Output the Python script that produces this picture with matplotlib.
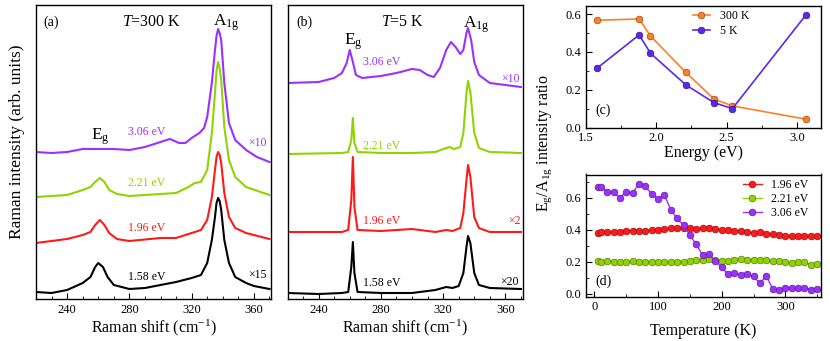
import numpy as np
import matplotlib
matplotlib.use("Agg")
import matplotlib.pyplot as plt
from matplotlib.ticker import MultipleLocator

plt.rcParams['font.family'] = ['Liberation Serif', 'DejaVu Serif']
plt.rcParams['mathtext.fontset'] = 'custom'
plt.rcParams['mathtext.rm'] = 'Liberation Serif'
plt.rcParams['mathtext.it'] = 'Liberation Serif:italic'
plt.rcParams['mathtext.bf'] = 'Liberation Serif:bold'

# colours
c_black = 'black'
c_red = '#ff1a1a'
c_green = '#8fd400'
c_purple = '#9b30ff'
c_orange = '#ff7f27'
c_blue = '#5a28e8'

# ---- panel (a): T = 300 K spectra (arb. units) ----
a158_x = [220, 230, 240, 250, 255, 258, 260, 263, 266, 270, 280, 290, 300, 310, 320, 326, 330, 333, 335, 336, 337, 338, 339, 341, 344, 348, 355, 360, 370]
a158_y = [8, 7, 10, 17, 23, 33, 37, 33, 23, 15, 11, 12, 15, 18, 22, 25, 37, 60, 83, 97, 102, 99, 90, 60, 37, 23, 17, 14, 11]
a196_x = [220, 240, 250, 255, 258, 261, 264, 267, 272, 280, 300, 310, 320, 326, 330, 333, 335, 336, 337, 338, 339, 341, 344, 348, 355, 370]
a196_y = [57, 61, 65, 68, 75, 80, 75, 67, 61, 59, 62, 62, 67, 70, 80, 103, 130, 143, 148, 145, 137, 107, 83, 72, 67, 61]
a221_x = [220, 240, 250, 255, 258, 261, 264, 267, 272, 280, 300, 310, 318, 322, 326, 330, 333, 335, 336, 337, 338, 339, 341, 344, 348, 355, 370]
a221_y = [103, 105, 110, 113, 118, 122, 118, 110, 106, 104, 106, 107, 113, 117, 118, 130, 167, 207, 229, 238, 232, 220, 173, 140, 123, 113, 105]
a306_x = [220, 230, 240, 250, 260, 270, 280, 290, 300, 306, 312, 316, 320, 325, 328, 330, 333, 335, 336, 337, 338, 339, 341, 344, 348, 355, 362, 370]
a306_y = [148, 147, 148, 151, 151, 151, 150, 153, 158, 161, 157, 157, 162, 167, 172, 183, 217, 250, 264, 271, 267, 260, 217, 177, 160, 150, 143, 138]

# ---- panel (b): T = 5 K spectra ----
b158_x = [220, 240, 255, 259, 261, 262, 263, 265, 280, 300, 315, 322, 326, 330, 333, 335, 336, 337.5, 340, 343, 350, 370]
b158_y = [7, 6, 7, 8, 33, 58, 27, 8, 7, 7, 10, 13, 12, 14, 27, 53, 64, 57, 27, 15, 12, 11]
b196_x = [220, 255, 259, 261, 262, 263, 265, 280, 300, 305, 315, 322, 326, 331, 333, 335, 336, 337.5, 340, 343, 350, 370]
b196_y = [68, 68, 70, 100, 143, 93, 70, 69, 71, 70, 68, 70, 69, 72, 87, 120, 135, 123, 83, 72, 68, 68]
b221_x = [220, 255, 259, 261, 262, 263, 265, 280, 300, 315, 322, 324, 327, 331, 333, 335, 336, 337.5, 340, 343, 350, 370]
b221_y = [146, 147, 148, 160, 182, 157, 148, 147, 147, 148, 152, 153, 151, 153, 167, 207, 219, 208, 167, 152, 148, 147]
b306_x = [220, 240, 250, 255, 258, 260, 262, 264, 268, 280, 290, 300, 305, 310, 314, 318, 322, 325, 328, 331, 333, 335, 336, 338, 340, 343, 350, 360, 370]
b306_y = [217, 218, 222, 227, 237, 250, 238, 225, 222, 224, 227, 231, 230, 225, 223, 232, 250, 258, 253, 246, 250, 267, 272, 260, 238, 225, 217, 215, 213]

# ---- panel (c): Eg/A1g ratio vs excitation energy ----
energy = [1.58, 1.88, 1.96, 2.21, 2.41, 2.54, 3.06]
ratio_300K = [0.567, 0.574, 0.484, 0.292, 0.151, 0.115, 0.045]
ratio_5K = [0.313, 0.490, 0.393, 0.226, 0.132, 0.101, 0.595]

# ---- panel (d): Eg/A1g ratio vs temperature ----
temps = [5, 10, 20, 30, 40, 50, 60, 70, 80, 90, 100, 110, 120, 130, 140, 150, 160, 170,
         180, 190, 200, 210, 220, 230, 240, 250, 260, 270, 280, 290, 300, 310, 320, 330, 340, 350]
r196 = [0.380, 0.385, 0.385, 0.383, 0.385, 0.390, 0.392, 0.390, 0.390, 0.400, 0.400, 0.405,
        0.410, 0.410, 0.410, 0.413, 0.405, 0.410, 0.410, 0.405, 0.400, 0.395, 0.390, 0.393,
        0.385, 0.380, 0.383, 0.375, 0.370, 0.368, 0.360, 0.360, 0.360, 0.362, 0.360, 0.360]
r221 = [0.205, 0.200, 0.203, 0.200, 0.200, 0.200, 0.202, 0.200, 0.200, 0.200, 0.198, 0.200,
        0.200, 0.200, 0.200, 0.205, 0.208, 0.210, 0.215, 0.210, 0.205, 0.205, 0.212, 0.217,
        0.210, 0.208, 0.208, 0.208, 0.205, 0.205, 0.200, 0.190, 0.200, 0.198, 0.180, 0.182]
r306 = [0.665, 0.665, 0.636, 0.635, 0.600, 0.635, 0.630, 0.686, 0.670, 0.623, 0.592, 0.617,
        0.523, 0.470, 0.427, 0.366, 0.307, 0.240, 0.245, 0.205, 0.163, 0.120, 0.128, 0.115,
        0.120, 0.107, 0.063, 0.110, 0.030, 0.020, 0.035, 0.037, 0.035, 0.033, 0.025, 0.027]

W, H = 830, 341
fig = plt.figure(figsize=(W / 100, H / 100), dpi=100)


def add_ax(l, t, r, b):
    return fig.add_axes([l / W, 1 - b / H, (r - l) / W, (b - t) / H])


ax_a = add_ax(36, 5, 271, 298.5)
ax_b = add_ax(287.5, 5, 522.5, 298.5)
ax_c = add_ax(585.5, 5.5, 821, 127.7)
ax_d = add_ax(585.5, 174.5, 821, 296.7)

lw = 1.5
for ax, sets in [(ax_a, [(a158_x, a158_y, c_black), (a196_x, a196_y, c_red),
                         (a221_x, a221_y, c_green), (a306_x, a306_y, c_purple)]),
                 (ax_b, [(b158_x, b158_y, c_black), (b196_x, b196_y, c_red),
                         (b221_x, b221_y, c_green), (b306_x, b306_y, c_purple)])]:
    for xs, ys, col in sets:
        ax.plot(xs, ys, color=col, lw=lw)
    ax.set_xlim(220, 371)
    ax.set_ylim(1.5, 295)
    ax.set_yticks([])
    ax.xaxis.set_minor_locator(MultipleLocator(10))
    ax.set_xticks([240, 280, 320, 360])
    ax.tick_params(axis='x', which='major', direction='in', length=4, labelsize=9, pad=4)
    ax.tick_params(axis='x', which='minor', direction='in', length=2.5)
    ax.set_xlabel('Raman shift (cm$^{-1}$)', fontsize=11.5, labelpad=1)

fig.text(17 / W, 1 - 141.5 / H, 'Raman intensity (arb. units)', rotation=90,
         fontsize=12.5, va='center', ha='center')

fs_lab = 8.5
fs_x = 8.5
# panel (a) annotations
ax_a.text(225, 278, '(a)', fontsize=10, va='center', ha='left')
ax_a.text(294, 278, '$T$=300 K', fontsize=11.5, va='center', ha='center')
ax_a.text(342, 277, 'A$_\\mathrm{1g}$', fontsize=12.5, va='center', ha='center')
ax_a.text(261, 163, 'E$_\\mathrm{g}$', fontsize=12.5, va='center', ha='center')
ax_a.text(291, 168, '3.06 eV', color=c_purple, fontsize=fs_lab, va='center', ha='center')
ax_a.text(291, 117, '2.21 eV', color=c_green, fontsize=fs_lab, va='center', ha='center')
ax_a.text(291, 72, '1.96 eV', color=c_red, fontsize=fs_lab, va='center', ha='center')
ax_a.text(291, 23, '1.58 eV', color=c_black, fontsize=fs_lab, va='center', ha='center')
ax_a.text(362, 157, '×10', color=c_purple, fontsize=fs_x, va='center', ha='center')
ax_a.text(362, 25, '×15', color=c_black, fontsize=fs_x, va='center', ha='center')

# panel (b) annotations
ax_b.text(226, 278, '(b)', fontsize=10, va='center', ha='left')
ax_b.text(294, 278, '$T$=5 K', fontsize=11.5, va='center', ha='center')
ax_b.text(341, 275, 'A$_\\mathrm{1g}$', fontsize=12.5, va='center', ha='center')
ax_b.text(262, 258, 'E$_\\mathrm{g}$', fontsize=12.5, va='center', ha='center')
ax_b.text(280.5, 238, '3.06 eV', color=c_purple, fontsize=fs_lab, va='center', ha='center')
ax_b.text(280.5, 154, '2.21 eV', color=c_green, fontsize=fs_lab, va='center', ha='center')
ax_b.text(280.5, 79, '1.96 eV', color=c_red, fontsize=fs_lab, va='center', ha='center')
ax_b.text(280.5, 17, '1.58 eV', color=c_black, fontsize=fs_lab, va='center', ha='center')
ax_b.text(363, 221, '×10', color=c_purple, fontsize=fs_x, va='center', ha='center')
ax_b.text(365.5, 79, '×2', color=c_red, fontsize=fs_x, va='center', ha='center')
ax_b.text(362.5, 18, '×20', color=c_black, fontsize=fs_x, va='center', ha='center')


def darker(col):
    import matplotlib.colors as mc
    r, g, b = mc.to_rgb(col)
    return (r * 0.6, g * 0.6, b * 0.6)


ms = 4.8
# panel (c)
ax_c.plot(energy, ratio_300K, '-o', color=c_orange, lw=1.2, ms=ms, mec=darker(c_orange), mew=0.5, label='300 K')
ax_c.plot(energy, ratio_5K, '-o', color=c_blue, lw=1.2, ms=ms, mec=darker(c_blue), mew=0.5, label='5 K')
ax_c.set_xlim(1.5, 3.167)
ax_c.set_ylim(0, 0.645)
ax_c.xaxis.set_major_locator(MultipleLocator(0.5))
ax_c.xaxis.set_minor_locator(MultipleLocator(0.25))
ax_c.yaxis.set_major_locator(MultipleLocator(0.2))
ax_c.yaxis.set_minor_locator(MultipleLocator(0.1))
ax_c.set_xlabel('Energy (eV)', fontsize=11.5, labelpad=1)
ax_c.text(0.04, 0.145, '(c)', transform=ax_c.transAxes, fontsize=10, va='center', ha='left')
ax_c.legend(loc='upper left', bbox_to_anchor=(0.437, 1.0), borderaxespad=0, frameon=False,
            fontsize=8.5, handlelength=1.4, handletextpad=0.9, labelspacing=0.25)

# panel (d)
ax_d.plot(temps, r196, '-o', color=c_red, lw=1.0, ms=ms, mec=darker(c_red), mew=0.5, label='1.96 eV')
ax_d.plot(temps, r221, '-o', color=c_green, lw=1.0, ms=ms, mec=darker(c_green), mew=0.5, label='2.21 eV')
ax_d.plot(temps, r306, '-o', color=c_purple, lw=1.0, ms=ms, mec=darker(c_purple), mew=0.5, label='3.06 eV')
ax_d.set_xlim(-14, 356)
ax_d.set_ylim(-0.02, 0.745)
ax_d.xaxis.set_major_locator(MultipleLocator(100))
ax_d.xaxis.set_minor_locator(MultipleLocator(50))
ax_d.yaxis.set_major_locator(MultipleLocator(0.2))
ax_d.yaxis.set_minor_locator(MultipleLocator(0.1))
ax_d.set_xlabel('Temperature (K)', fontsize=11.5, labelpad=7)
ax_d.text(0.04, 0.123, '(d)', transform=ax_d.transAxes, fontsize=10, va='center', ha='left')
ax_d.legend(loc='upper left', bbox_to_anchor=(0.648, 1.0), borderaxespad=0, frameon=False,
            fontsize=8.5, handlelength=1.6, handletextpad=0.8, labelspacing=0.15)

for ax in (ax_c, ax_d):
    ax.tick_params(which='major', direction='in', length=4, labelsize=9, pad=3)
    ax.tick_params(which='minor', direction='in', length=2.5)
    ax.yaxis.set_major_formatter(matplotlib.ticker.FormatStrFormatter('%.1f'))
ax_c.xaxis.set_major_formatter(matplotlib.ticker.FormatStrFormatter('%.1f'))

for ax in (ax_a, ax_b, ax_c, ax_d):
    for sp in ax.spines.values():
        sp.set_linewidth(1.0)

fig.text(545 / W, 1 - 143.5 / H, 'E$_\\mathrm{g}$/A$_\\mathrm{1g}$ intensity ratio', rotation=90,
         fontsize=11.5, va='center', ha='center')

fig.savefig('out.png', dpi=100)
